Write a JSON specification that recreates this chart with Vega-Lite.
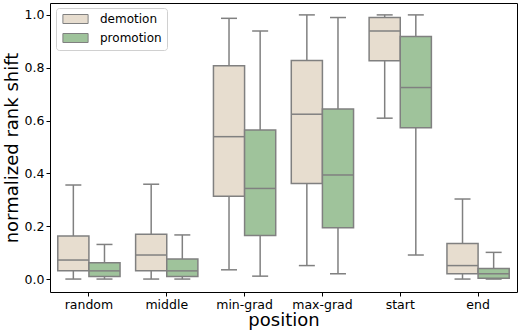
{
  "$schema": "https://vega.github.io/schema/vega-lite/v6.json",
  "width": 467,
  "height": 289,
  "autosize": {"type": "none"},
  "padding": {"left": 50, "top": 3, "right": 1, "bottom": 42},
  "config": {
    "font": "DejaVu Sans",
    "view": {"stroke": "#000000", "strokeWidth": 1},
    "axis": {"grid": false, "domain": false, "tickColor": "#000000", "tickSize": 4, "labelPadding": 2, "labelColor": "#000000", "labelFontSize": 12.5, "titleFontSize": 18, "titleFontWeight": "normal", "titleColor": "#000000"}
  },
  "data": {
    "values": [
      {"position": "random", "kind": "demotion", "lower": 0.0, "q1": 0.031, "median": 0.072, "q3": 0.163, "upper": 0.356},
      {"position": "random", "kind": "promotion", "lower": 0.0, "q1": 0.010, "median": 0.031, "q3": 0.062, "upper": 0.131},
      {"position": "middle", "kind": "demotion", "lower": 0.0, "q1": 0.031, "median": 0.091, "q3": 0.170, "upper": 0.359},
      {"position": "middle", "kind": "promotion", "lower": 0.0, "q1": 0.010, "median": 0.031, "q3": 0.076, "upper": 0.167},
      {"position": "min-grad", "kind": "demotion", "lower": 0.035, "q1": 0.313, "median": 0.539, "q3": 0.807, "upper": 0.987},
      {"position": "min-grad", "kind": "promotion", "lower": 0.011, "q1": 0.165, "median": 0.343, "q3": 0.564, "upper": 0.939},
      {"position": "max-grad", "kind": "demotion", "lower": 0.051, "q1": 0.362, "median": 0.624, "q3": 0.827, "upper": 1.0},
      {"position": "max-grad", "kind": "promotion", "lower": 0.020, "q1": 0.194, "median": 0.394, "q3": 0.644, "upper": 0.990},
      {"position": "start", "kind": "demotion", "lower": 0.609, "q1": 0.826, "median": 0.939, "q3": 0.990, "upper": 1.0},
      {"position": "start", "kind": "promotion", "lower": 0.091, "q1": 0.573, "median": 0.725, "q3": 0.918, "upper": 1.0},
      {"position": "end", "kind": "demotion", "lower": 0.0, "q1": 0.020, "median": 0.051, "q3": 0.135, "upper": 0.303},
      {"position": "end", "kind": "promotion", "lower": 0.0, "q1": 0.003, "median": 0.020, "q3": 0.040, "upper": 0.101}
    ]
  },
  "encoding": {
    "x": {
      "field": "position", "type": "nominal",
      "sort": ["random", "middle", "min-grad", "max-grad", "start", "end"],
      "scale": {"paddingInner": 0.2, "paddingOuter": 0.1},
      "axis": {"labelAngle": 0, "title": "position", "titlePadding": 1}
    },
    "xOffset": {"field": "kind", "type": "nominal", "sort": ["demotion", "promotion"], "scale": {"paddingInner": 0, "paddingOuter": 0}}
  },
  "layer": [
    {
      "mark": {"type": "rule", "color": "#808080", "strokeWidth": 1.5},
      "encoding": {
        "y": {"field": "lower", "type": "quantitative", "scale": {"domain": [-0.049, 1.045], "nice": false, "zero": false}, "axis": {"values": [0, 0.2, 0.4, 0.6, 0.8, 1.0], "format": ".1f", "title": "normalized rank shift", "titlePadding": 3}},
        "y2": {"field": "upper"}
      }
    },
    {
      "mark": {"type": "bar", "stroke": "#808080", "strokeWidth": 1.5},
      "encoding": {
        "y": {"field": "q1", "type": "quantitative"},
        "y2": {"field": "q3"},
        "fill": {
          "field": "kind", "type": "nominal",
          "scale": {"domain": ["demotion", "promotion"], "range": ["#e7ddcf", "#9fc39b"]},
          "legend": {
            "title": null, "orient": "none", "legendX": 6, "legendY": 5,
            "fillColor": "#ffffff", "strokeColor": "#d0d0d0", "cornerRadius": 3, "padding": 5,
            "symbolType": "M-2.8,-1H2.8V1H-2.8Z", "symbolSize": 81, "symbolOffset": 8.5,
            "symbolStrokeColor": "#808080", "symbolStrokeWidth": 1, "symbolOpacity": 1,
            "labelFontSize": 12, "labelColor": "#000000", "rowPadding": 5, "labelOffset": 18.5
          }
        }
      }
    },
    {
      "mark": {"type": "tick", "color": "#808080", "thickness": 1.5, "size": 31, "opacity": 1},
      "encoding": {"y": {"field": "median", "type": "quantitative"}}
    },
    {
      "mark": {"type": "tick", "color": "#808080", "thickness": 1.5, "size": 16, "opacity": 1},
      "encoding": {"y": {"field": "lower", "type": "quantitative"}}
    },
    {
      "mark": {"type": "tick", "color": "#808080", "thickness": 1.5, "size": 16, "opacity": 1},
      "encoding": {"y": {"field": "upper", "type": "quantitative"}}
    }
  ]
}
